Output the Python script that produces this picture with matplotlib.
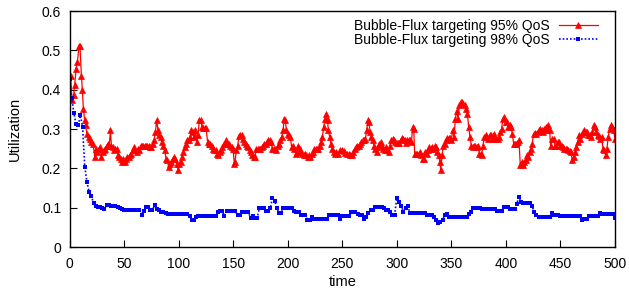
import matplotlib
matplotlib.use("Agg")
import matplotlib.pyplot as plt
import numpy as np

plt.rcParams['font.family'] = ['Liberation Sans', 'DejaVu Sans']

# ---------------- data ----------------
label_95 = "Bubble-Flux targeting 95% QoS"
label_98 = "Bubble-Flux targeting 98% QoS"

red_time = [
    1, 2.3, 3.8, 4.7, 6, 7.2, 8.7, 9.6, 10.9, 11.8, 12.7, 13.9, 14.8, 16, 17.6, 18.8, 20, 21.6, 23.1, 24,
    25.5, 26.8, 28, 29.2, 30.4, 31.7, 32.9, 34.1, 35.3, 36.5, 37.5, 38.4, 39.6, 40.8, 42, 43.2, 44.5, 45.7,
    46.9, 48.1, 49.3, 50.6, 51.8, 53, 54.2, 55.5, 56.7, 57.9, 59.1, 60.3, 61.6, 62.8, 64, 65.2, 66.5, 67.7,
    68.9, 70.1, 71.3, 72.6, 73.8, 75, 76.5, 77.5, 78.7, 79.9, 81.1, 82.3, 83.6, 84.8, 86, 87.2, 88.5, 89.7,
    90.9, 92.1, 93.3, 94.6, 95.8, 97, 98.2, 99.5, 100.7, 101.9, 103.1, 104.3, 105.6, 106.8, 108, 109.2,
    110.5, 111.7, 112.9, 114.1, 115.3, 116.6, 117.8, 119, 120.2, 121.5, 122.7, 123.9, 125.1, 126.6,
    127.9, 129, 130.3, 131.5, 132.8, 134, 135.2, 136.4, 137.6, 138.9, 140.1, 141.3, 142.5, 143.8, 145,
    146.2, 147.4, 148.6, 149.9, 151.1, 151.7, 152.9, 154.1, 155.4, 156.6, 157.8, 159, 160.3, 161.5, 162.7,
    163.9, 165.1, 166.4, 167.6, 168.8, 170, 171.3, 172.5, 173.7, 174.9, 176.1, 177.4, 178.6, 179.8, 181,
    182.3, 183.5, 184.7, 185.9, 187.1, 188.4, 189.6, 190.8, 192, 193.3, 194.5, 195.7, 196.9, 197.8, 198.8,
    200, 201.2, 202.4, 203.6, 204.9, 206.1, 207.3, 208.5, 209.8, 211, 212.2, 213.4, 214.6, 215.9, 217.1,
    218.3, 219.5, 220.8, 222, 223.2, 224.4, 225.6, 226.9, 228.1, 229.3, 230.5, 231.8, 233, 234.2, 235.4,
    236.6, 237.2, 238.5, 239.7, 240.9, 242.1, 243.4, 244.6, 245.8, 248,
    249.8, 251.3, 252.9, 254.4, 255.9, 257.4, 259, 260.2, 261.4, 262.6, 263.9, 265.1, 266.3, 267.5, 268.7,
    270, 271.2, 272.4, 273.6, 274.5, 275.5, 276.7, 277.9, 279.1, 280.4, 281.6, 282.8, 284, 285.2, 286.5,
    287.7, 288.9, 290.1, 291.4, 292.6, 293.8, 295, 296.2, 297.5, 298.7, 299.9, 301.1, 302.4, 303.6, 304.8,
    306, 307.2, 308.5, 309.7, 310.9, 312.1, 313.4, 314.6, 315.5, 316.4, 317.6, 318.9, 320.1, 321.3, 322.5,
    323.7, 325, 326.2, 327.4, 328.6, 329.8, 331.1, 332.3, 333.5, 334.7, 336, 337.2, 338.4, 339.6, 340.2,
    341.5, 342.7, 343.9, 345.1, 346.4, 347.6, 348.8, 350, 351.2, 352.5, 353.7, 354.9, 356.1, 357.3, 358.6,
    359.8, 361, 362.2, 363.5, 364.7, 365.9, 367.1, 368.3, 369.6, 370.8, 372, 373.2, 374.5,
    375.7, 376.9, 377.7, 379, 380.2, 381.4, 382.6, 383.9, 385.1, 386.3, 387.5, 388.7, 390, 391.2, 392.4,
    393.6, 394.9, 396.1, 397.3, 398.5, 399.7, 401, 402.2, 403.4, 404.6, 405.9, 407.1, 408.3, 409.5, 410.7,
    412, 413.2, 414.4, 415.6, 416.9, 418.1, 419.3, 420.5, 421.7, 423, 424.2, 425.4, 426.6, 427.9, 429.1,
    430.3, 431.5, 432.7, 434, 435.2, 436.4, 437.6, 438.9, 440.1, 441, 442.5, 443.7, 445, 446.2, 447.4,
    448.6, 449.9, 451.1, 452.3, 453.5, 454.7, 456, 457.2, 458.4, 459.6, 460.9, 462.1, 463.3, 464.5, 465.7,
    467, 468.2, 469.4, 470.6, 471.8, 473.1, 474.3, 475.5, 476.7, 478, 479.2, 480.4, 481.6, 482.8, 484.1,
    485.3, 486.5, 487.7, 489, 490.2, 491.4, 492.6, 493.8, 495.1, 496.3, 497.5, 498.7, 500,
]

red_util = [
    .436, .373, .386, .411, .453, .470, .510, .510, .436, .398, .352, .322, .309, .288, .280, .275, .267, .263, .229, .250,
    .242, .250, .254, .229, .242, .246, .250, .258, .263, .258, .297, .258, .254, .246, .250, .250, .233, .229,
    .225, .216, .225, .216, .225, .229, .229, .233, .237, .246, .254, .246, .242, .250, .246, .258, .258, .258,
    .258, .258, .258, .258, .254, .254, .263, .271, .292, .322, .297, .284, .280, .267, .258, .246, .225, .220,
    .203, .212, .216, .225, .229, .225, .212, .195, .212, .216, .229, .242, .254, .263, .271, .271,
    .280, .297, .292, .280, .297, .267, .284, .322, .324, .305, .303, .303, .303, .267,
    .263, .263, .258, .250, .246, .246, .237, .233, .242, .246, .254, .263, .263, .273, .263,
    .261, .258, .254, .250, .212, .216, .246, .258, .281, .284, .284, .275, .267, .263, .258,
    .254, .246, .242, .233, .229, .229, .250, .250, .250, .250, .254, .258, .263, .263, .267,
    .271, .273, .267, .250, .248, .250, .246, .258, .263, .271, .280, .297, .326, .322, .297,
    .288, .284, .280, .254, .258, .250, .237, .242, .258, .250, .242, .237, .233, .237, .233,
    .229, .233, .229, .237, .242, .250, .250, .250, .250, .258, .267, .280, .305, .326, .339,
    .322, .297, .280, .263, .250, .242, .237, .242, .237, .246,
    .246, .244, .239, .237, .236, .233, .233, .242, .250, .254, .258, .258, .263, .267, .271,
    .271, .275, .297, .322, .318, .292, .280, .271, .258, .250, .242, .254, .263, .267, .258,
    .250, .246, .254, .246, .242, .258, .271, .275, .271, .267, .264, .264, .264, .271, .278,
    .275, .271, .264, .271, .271, .271, .267, .305, .301, .237, .237, .237, .237, .242, .233,
    .225, .225, .242, .237, .246, .254, .250, .254, .250, .258, .254, .242, .233, .216, .195,
    .233, .258, .263, .271, .278, .278, .278, .271, .297, .280, .326, .347, .326, .360, .369,
    .369, .364, .360, .352, .339, .305, .280, .258, .254, .258, .258, .254, .258,
    .237, .237, .233, .258, .280, .284, .280, .275, .284, .284, .275, .288, .275, .275, .275,
    .280, .292, .301, .326, .331, .318, .318, .305, .309, .305, .288, .263, .263, .263, .267,
    .271, .208, .216, .208, .216, .220, .233, .229, .242, .250, .263, .288, .290, .288, .292,
    .297, .301, .297, .292, .301, .305, .297, .309, .297, .258, .275, .275, .258, .258, .267,
    .267, .258, .256, .254, .250, .250, .250, .246, .244, .242, .220, .229, .242, .254, .267,
    .284, .275, .288, .292, .297, .292, .292, .284, .284, .280, .292, .311, .305, .292, .284,
    .281, .275, .280, .250, .246, .233, .250, .280, .301, .309, .305, .297, .275,
]

blue_time = list(range(0, 501, 2))
blue_util = [
    .428, .380, .340, .312, .311, .335, .305, .204, .165, .140,
    .130, .112, .103, .102, .101, .099, .097, .106, .106, .105,
    .105, .104, .101, .098, .096, .095, .095, .095, .095, .095,
    .095, .095, .095, .081, .092, .101, .101, .093, .093, .107,
    .097, .093, .090, .088, .087, .084, .084, .084, .084, .084,
    .084, .084, .084, .084, .084, .079, .069, .069, .077, .079,
    .079, .079, .079, .079, .079, .079, .079, .079, .090, .091,
    .091, .079, .091, .091, .091, .091, .091, .081, .081, .090,
    .088, .088, .088, .074, .079, .074, .074, .098, .098, .098,
    .092, .091, .098, .125, .118, .100, .087, .086, .100, .100,
    .100, .100, .100, .092, .090, .090, .082, .082, .082, .069,
    .069, .077, .071, .071, .071, .071, .071, .071, .071, .082,
    .082, .082, .082, .082, .070, .079, .079, .079, .079, .090,
    .090, .089, .085, .082, .082, .072, .077, .087, .094, .094,
    .101, .101, .101, .101, .098, .094, .094, .088, .082, .082,
    .125, .115, .104, .090, .100, .105, .087, .087, .087, .087,
    .087, .087, .087, .087, .082, .082, .082, .076, .069, .062,
    .064, .069, .082, .084, .077, .077, .077, .077, .077, .077,
    .077, .077, .077, .085, .089, .100, .100, .100, .100, .096,
    .096, .096, .096, .096, .096, .096, .092, .092, .092, .102,
    .102, .102, .096, .096, .096, .110, .128, .115, .111, .111,
    .111, .111, .104, .090, .081, .077, .077, .077, .077, .077,
    .077, .086, .081, .081, .081, .079, .079, .079, .079, .079,
    .079, .079, .079, .079, .079, .069, .071, .072, .079, .079,
    .079, .079, .079, .087, .084, .084, .084, .084, .084, .084,
    .074,
]

x_ticks = [0, 50, 100, 150, 200, 250, 300, 350, 400, 450, 500]
y_ticks = [0, 0.1, 0.2, 0.3, 0.4, 0.5, 0.6]

# ---------------- figure ----------------
fig = plt.figure(figsize=(6.29, 2.92), dpi=100)
ax = fig.add_axes([0.1105, 0.1541, 0.8672, 0.8082])

ax.plot(red_time, red_util, color='#ff0000', lw=0.9, marker='^', markersize=4,
        markeredgewidth=0.5, label=label_95)
ax.plot(blue_time, blue_util, color='#0000ff', lw=1.2, ls=(0, (1, 1.2)), marker='s',
        markersize=2.2, markeredgewidth=0, label=label_98)

ax.set_xlim(0, 500)
ax.set_ylim(0, 0.6)
ax.set_xticks(x_ticks)
ax.set_xticklabels([str(v) for v in x_ticks])
ax.set_yticks(y_ticks)
ax.set_yticklabels(['0', '0.1', '0.2', '0.3', '0.4', '0.5', '0.6'])
ax.tick_params(direction='in', length=5, width=0.8, labelsize=10, colors='black')
ax.tick_params(axis='x', pad=7)
ax.tick_params(axis='y', pad=6)
for sp in ax.spines.values():
    sp.set_linewidth(1.0)
    sp.set_color('black')

ax.set_xlabel('time', fontsize=10.5, labelpad=3)
ax.set_ylabel('Utilization', fontsize=10.5, labelpad=14)

leg = ax.legend(loc='upper right', bbox_to_anchor=(0.982, 1.0), frameon=False,
                markerfirst=False, fontsize=10, handlelength=2.75, handletextpad=0.7,
                labelspacing=0.0, borderaxespad=0.15)

fig.savefig('out.png', dpi=100)
